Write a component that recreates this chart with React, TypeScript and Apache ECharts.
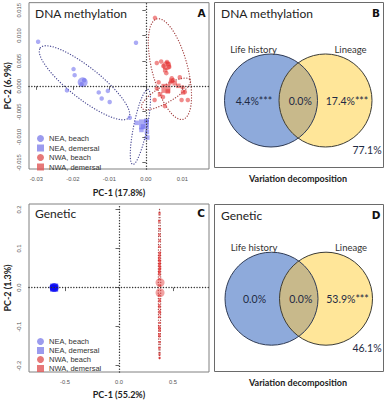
import React, { useEffect, useRef } from 'react';
import * as echarts from 'echarts';

// ---------- shared legend ----------
const groups = ['NEA, beach', 'NEA, demersal', 'NWA, beach', 'NWA, demersal'];
const groupIcons = ['circle', 'rect', 'circle', 'rect'];
const groupColors = ['#8282ea', '#8282ea', '#e05656', '#e05656'];

// ---------- Panel A : DNA methylation PCA ----------
const xTicksA = [-0.03, -0.02, -0.01, 0, 0.01];
const yTicksA = [-0.015, -0.01, -0.005, 0, 0.005, 0.01, 0.015];
const methNeaBeach = [
  [-0.0295, 0.0088], [-0.0198, 0.0034], [-0.0195, 0.0022], [-0.0216, -0.0008],
  [-0.0176, 0.0004], [-0.0169, 0.0012], [-0.0129, -0.0012], [-0.0121, -0.0024],
  [-0.0099, -0.0031], [-0.0104, -0.0009], [-0.0044, -0.0062], [-0.0027, 0.0086],
];
const methNeaDem = [
  [-0.0025, -0.0072], [-0.0012, -0.0086], [0.0003, -0.009], [0.0004, -0.0101],
  [-0.0008, -0.0079], [0.0001, -0.0068],
];
const methNwaBeach = [
  [0.0025, 0.0135], [0.003, 0.0046], [0.0042, 0.0049], [0.0048, 0.004], [0.0058, 0.0048],
  [0.0064, 0.0038], [0.0056, 0.0026], [0.0071, 0.0016], [0.0075, 0.0012], [0.003, -0.0004],
  [0.0024, -0.0027], [0.0047, -0.0021], [0.0052, -0.0039], [0.0098, -0.0027], [0.0107, -0.0011],
  [0.0115, -0.0027], [0.0101, -0.0002], [0.0093, 0.0018], [0.0068, 0.0008], [0.0035, 0.0008],
];
const methNwaDem = [
  [0.0053, 0.0032], [0.0061, 0.0044], [0.007, 0.0011], [0.0079, 0.0006],
  [0.0102, -0.0012], [0.0039, -0.0016], [0.006, -0.001], [0.0089, 0.0001],
];
const methCentroids = [[-0.0173, 0.0008], [-0.0005, -0.0075], [0.0057, 0.0041], [0.0055, -0.0004]];
// ellipse: [cx, cy, ax, ay, bx, by] (conjugate semi-axes, data units)
const methEllipsesNea = [
  [-0.0168, 0.0007, -0.0121, 0.0069, 0.0027, 0.0024],
  [-0.0015, -0.008, 0.0021, 0.0074, 0.0018, -0.0003],
];
const methEllipsesNwa = [
  [0.0066, 0.0034, -0.0036, 0.0099, 0.0047, 0.0009],
  [0.0055, -0.0015, 0.0066, 0.0028, 0.0012, -0.0014],
];

// ---------- Panel C : Genetic PCA ----------
const xTicksC = [-0.5, 0, 0.5];
const yTicksC = [-0.2, -0.1, 0, 0.1, 0.2];
const genNeaBeach = [[-0.62, 0.001], [-0.6, -0.001], [-0.59, 0.0], [-0.61, 0.002], [-0.585, -0.001]];
const genNeaDem = [[-0.605, 0.0], [-0.595, 0.001], [-0.615, -0.001]];
const genNwaBeach = [
  [0.375, 0.19], [0.372, 0.17], [0.377, 0.15], [0.374, 0.135], [0.376, 0.12], [0.373, 0.105],
  [0.378, 0.09], [0.375, 0.08], [0.372, 0.07], [0.378, 0.062], [0.374, 0.055], [0.377, 0.048],
  [0.373, 0.04], [0.376, 0.032], [0.374, 0.022], [0.378, 0.005], [0.372, -0.02], [0.376, -0.03],
  [0.373, -0.045], [0.377, -0.06], [0.374, -0.075], [0.376, -0.09], [0.372, -0.1], [0.377, -0.11],
  [0.374, -0.125], [0.376, -0.14], [0.373, -0.155], [0.375, -0.17], [0.376, -0.18],
];
const genNwaDem = [
  [0.376, 0.085], [0.373, 0.075], [0.377, 0.068], [0.374, 0.06], [0.378, 0.052], [0.375, 0.045],
  [0.373, 0.038], [0.376, -0.035], [0.374, -0.05], [0.377, -0.065], [0.375, -0.105], [0.373, -0.12],
];
const genCentroids = [[-0.6, 0.0], [-0.6, 0.0], [0.38, 0.013], [0.38, -0.013]];
const genEllipsesNwa = [[0.375, 0.01, 0, 0.19, 0.011, 0]];

// ---------- Panels B & D : variation decomposition ----------
const vennSets = ['Life history', 'Lineage'];
const vennMeth = ['4.4%***', '0.0%', '17.4%***', '77.1%'];
const vennGen = ['0.0%', '0.0%', '53.9%***', '46.1%'];
const panelTitles = ['DNA methylation', 'DNA methylation', 'Genetic', 'Genetic'];
const panelLetters = ['A', 'B', 'C', 'D'];
const axisNames = ['PC-1 (17.8%)', 'PC-2 (6.9%)', 'PC-1 (55.2%)', 'PC-2 (1.3%)'];
const decompTitle = 'Variation decomposition';

const R = 46.5;
const D = 54.5;
const H = Math.sqrt(R * R - (D / 2) * (D / 2));
echarts.graphic.registerShape(
  'lens',
  echarts.graphic.extendPath(
    `M0,${-H} A${R},${R} 0 0 1 0,${H} A${R},${R} 0 0 1 0,${-H} Z`,
    {}
  )
);

const TICK_FONT = 'Liberation Sans';
const UI_FONT = 'Lato';

function ellipseRender(color: string) {
  return (params: any, api: any) => {
    const cx = api.value(0), cy = api.value(1), ax = api.value(2), ay = api.value(3), bx = api.value(4), by = api.value(5);
    const pts: number[][] = [];
    for (let k = 0; k <= 90; k++) {
      const t = (k / 90) * Math.PI * 2;
      pts.push(api.coord([cx + ax * Math.cos(t) + bx * Math.sin(t), cy + ay * Math.cos(t) + by * Math.sin(t)]));
    }
    return {
      type: 'polyline',
      silent: true,
      shape: { points: pts },
      style: { stroke: color, fill: null, lineWidth: 1.3, lineDash: [0.1, 2.6], lineCap: 'round' },
    };
  };
}

function scatter(name: string, data: number[][], symbol: string, color: string, size: number, gi: number) {
  return {
    type: 'scatter', name, data, symbol, symbolSize: size, xAxisIndex: gi, yAxisIndex: gi,
    itemStyle: { color }, silent: true,
  };
}

function refLines(gi: number) {
  return {
    type: 'line', data: [], xAxisIndex: gi, yAxisIndex: gi, silent: true,
    markLine: {
      silent: true, symbol: 'none', label: { show: false },
      lineStyle: { color: '#333', width: 1.4, type: [0.1, 2.7], cap: 'round' },
      data: [{ xAxis: 0 }, { yAxis: 0 }],
    },
  };
}

function vennGraphics(c1x: number, cy: number, texts: string[], boxY: number, boxH: number, titleIdx: number) {
  const c2x = c1x + D;
  const mx = (c1x + c2x) / 2;
  const tcolor = '#1e2a44';
  const t = (text: string, x: number, y: number, size: number, weight = 'normal', fill = tcolor, family = UI_FONT) => ({
    type: 'text', x, y, silent: true,
    style: { text, fontSize: size, fontWeight: weight, fontFamily: family, fill, align: 'center', verticalAlign: 'middle' },
  });
  return [
    { type: 'rect', silent: true, shape: { x: 214.5, y: boxY, width: 169, height: boxH }, style: { fill: '#fff', stroke: '#6a6a6a', lineWidth: 1 } },
    { type: 'circle', silent: true, shape: { cx: c1x, cy, r: R }, style: { fill: '#8eaadb', stroke: 'none' } },
    { type: 'circle', silent: true, shape: { cx: c2x, cy, r: R }, style: { fill: '#ffe699', stroke: 'none' } },
    { type: 'lens', silent: true, x: mx, y: cy, style: { fill: '#c8b98b', stroke: 'none' } },
    { type: 'circle', silent: true, shape: { cx: c1x, cy, r: R }, style: { fill: 'none', stroke: '#2f3b55', lineWidth: 1 } },
    { type: 'circle', silent: true, shape: { cx: c2x, cy, r: R }, style: { fill: 'none', stroke: '#3b3b35', lineWidth: 1 } },
    t(vennSets[0], c1x - 17.5, cy - 51.5, 9.5, 'normal', '#333'),
    t(vennSets[1], c2x + 25, cy - 51.5, 9.5, 'normal', '#333'),
    t(texts[0], c1x - 17, cy, 10.5),
    t(texts[1], mx + 2, cy, 10.5),
    t(texts[2], c2x + 21.5, cy, 10.5),
    t(texts[3], 367, cy + 49, 10.5),
    { type: 'text', x: 221, y: boxY + 10.5, silent: true, style: { text: panelTitles[titleIdx], fontSize: 12, fontFamily: UI_FONT, fill: '#222', align: 'left', verticalAlign: 'middle' } },
    t(panelLetters[titleIdx], 376, boxY + 10.5, 10.5, 'bold', '#111', 'DejaVu Sans'),
    t(decompTitle, 298, boxY + boxH + 11, 9, 'bold', '#222'),
  ];
}

function xAxisCfg(gi: number, min: number, max: number, ticks: number[], dec: number, name: string, gap: number) {
  return {
    type: 'value', gridIndex: gi, min, max, name, nameLocation: 'middle', nameGap: gap,
    nameTextStyle: { fontFamily: UI_FONT, fontWeight: 'bold', fontSize: 9, color: '#222' },
    axisLine: { show: false }, splitLine: { show: false },
    axisTick: { show: true, length: 3.5, customValues: ticks, lineStyle: { color: '#666' } },
    axisLabel: { customValues: ticks, formatter: (v: number) => v.toFixed(dec), fontFamily: TICK_FONT, fontSize: 5.8, color: '#555', margin: 7 },
  };
}
function yAxisCfg(gi: number, min: number, max: number, ticks: number[], dec: number, name: string, gap: number) {
  return {
    type: 'value', gridIndex: gi, min, max, name, nameLocation: 'middle', nameGap: gap, nameRotate: 90,
    nameTextStyle: { fontFamily: UI_FONT, fontWeight: 'bold', fontSize: 9, color: '#222' },
    axisLine: { show: false }, splitLine: { show: false },
    axisTick: { show: true, length: 3.5, customValues: ticks, lineStyle: { color: '#666' } },
    axisLabel: { customValues: ticks, rotate: 90, formatter: (v: number) => v.toFixed(dec), fontFamily: TICK_FONT, fontSize: 5.8, color: '#555', margin: 7 },
  };
}

export default function App() {
  const ref = useRef<HTMLDivElement>(null);
  useEffect(() => {
    if (!ref.current) return;
    const chart = echarts.init(ref.current, null, { renderer: 'svg' });
    const legendData = groups.map((g, i) => ({ name: g, icon: groupIcons[i], itemStyle: { color: groupColors[i] } }));
    const legendCommon = {
      orient: 'vertical', left: 32, itemWidth: 7, itemHeight: 7, itemGap: 0.5, selectedMode: false,
      textStyle: { fontFamily: TICK_FONT, fontSize: 7.5, color: '#333', lineHeight: 9 }, data: legendData,
    };
    const NEA_A = 'rgba(110,110,238,0.72)';
    const NWA_A = 'rgba(228,50,50,0.7)';
    const NEA_C = 'rgba(10,10,245,0.85)';
    const NWA_C = 'rgba(225,35,35,0.75)';

    const option: any = {
      animation: false,
      grid: [
        { left: 29, top: 2, width: 180, height: 167, show: true, borderColor: '#808080', borderWidth: 1, backgroundColor: 'transparent' },
        { left: 29, top: 204, width: 180, height: 168, show: true, borderColor: '#808080', borderWidth: 1, backgroundColor: 'transparent' },
      ],
      xAxis: [
        xAxisCfg(0, -0.032, 0.0173, xTicksA, 2, axisNames[0], 19),
        xAxisCfg(1, -0.833, 0.833, xTicksC, 1, axisNames[2], 18),
      ],
      yAxis: [
        yAxisCfg(0, -0.0163, 0.0165, yTicksA, 3, axisNames[1], 17),
        yAxisCfg(1, -0.216, 0.214, yTicksC, 1, axisNames[3], 17),
      ],
      legend: [
        { ...legendCommon, top: 129 },
        { ...legendCommon, top: 332, itemGap: 0 },
      ],
      series: [
        refLines(0),
        { type: 'custom', name: 'ellNEA', xAxisIndex: 0, yAxisIndex: 0, data: methEllipsesNea, renderItem: ellipseRender('rgba(60,60,140,0.9)'), silent: true },
        { type: 'custom', name: 'ellNWA', xAxisIndex: 0, yAxisIndex: 0, data: methEllipsesNwa, renderItem: ellipseRender('rgba(150,40,40,0.85)'), silent: true },
        scatter(groups[0], methNeaBeach, 'circle', NEA_A, 4.5, 0),
        scatter(groups[1], methNeaDem, 'rect', NEA_A, 4.5, 0),
        scatter(groups[2], methNwaBeach, 'circle', NWA_A, 4.5, 0),
        scatter(groups[3], methNwaDem, 'rect', NWA_A, 4.5, 0),
        scatter(groups[0], [methCentroids[0]], 'circle', NEA_A, 10, 0),
        scatter(groups[1], [methCentroids[1]], 'rect', NEA_A, 10, 0),
        scatter(groups[2], [methCentroids[2]], 'circle', NWA_A, 9, 0),
        scatter(groups[3], [methCentroids[3]], 'rect', NWA_A, 9, 0),

        refLines(1),
        { type: 'custom', name: 'ellNWAg', xAxisIndex: 1, yAxisIndex: 1, data: genEllipsesNwa, renderItem: ellipseRender('rgba(150,40,40,0.85)'), silent: true },
        scatter(groups[0], genNeaBeach, 'circle', NEA_C, 5, 1),
        scatter(groups[1], genNeaDem, 'rect', NEA_C, 5, 1),
        scatter(groups[2], genNwaBeach, 'circle', NWA_C, 2.6, 1),
        scatter(groups[3], genNwaDem, 'rect', NWA_C, 2.6, 1),
        scatter(groups[0], [genCentroids[0]], 'circle', NEA_C, 9, 1),
        scatter(groups[1], [genCentroids[1]], 'rect', NEA_C, 8, 1),
        scatter(groups[2], [genCentroids[2]], 'circle', 'rgba(225,60,60,0.6)', 9, 1),
        scatter(groups[3], [genCentroids[3]], 'circle', 'rgba(225,60,60,0.6)', 9, 1),
      ],
      graphic: [
        { type: 'text', x: 35, y: 13, silent: true, style: { text: panelTitles[0], fontSize: 12, fontFamily: UI_FONT, fill: '#222', align: 'left', verticalAlign: 'middle' } },
        { type: 'text', x: 201.5, y: 12.5, silent: true, style: { text: panelLetters[0], fontSize: 10.5, fontWeight: 'bold', fontFamily: 'DejaVu Sans', fill: '#111', align: 'center', verticalAlign: 'middle' } },
        { type: 'text', x: 35, y: 213, silent: true, style: { text: panelTitles[2], fontSize: 12, fontFamily: UI_FONT, fill: '#222', align: 'left', verticalAlign: 'middle' } },
        { type: 'text', x: 201, y: 213, silent: true, style: { text: panelLetters[2], fontSize: 10.5, fontWeight: 'bold', fontFamily: 'DejaVu Sans', fill: '#111', align: 'center', verticalAlign: 'middle' } },
        ...vennGraphics(271, 100.5, vennMeth, 2.5, 165, 1),
        ...vennGraphics(271.5, 298.7, vennGen, 204.5, 167, 3),
      ],
    };
    chart.setOption(option);
    return () => chart.dispose();
  }, []);
  return <div ref={ref} style={{ position: 'fixed', left: 0, top: 0, width: 386, height: 400, background: '#fff' }} />;
}
